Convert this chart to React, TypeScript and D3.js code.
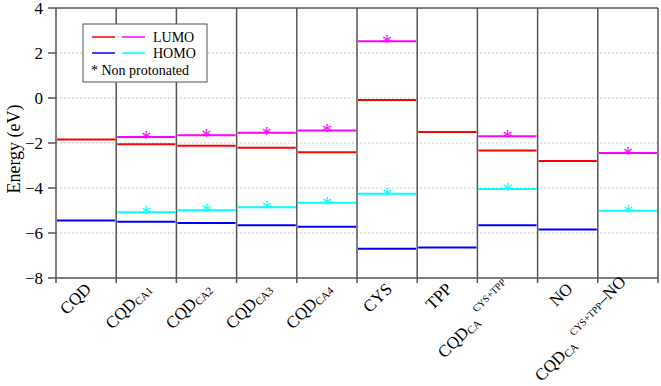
import React from "react";
import * as d3 from "d3";

const categories = ["CQD", "CQDCA1", "CQDCA2", "CQDCA3", "CQDCA4", "CYS", "TPP", "CQDCA_CYS+TPP", "NO", "CQDCA_CYS+TPP-NO"];
const lumo: (number | null)[] = [-1.84, -2.06, -2.12, -2.21, -2.41, -0.09, -1.51, -2.33, -2.8, null];
const homo: (number | null)[] = [-5.44, -5.5, -5.56, -5.66, -5.72, -6.7, -6.64, -5.66, -5.84, null];
const lumoNP: (number | null)[] = [null, -1.73, -1.66, -1.54, -1.44, 2.52, null, -1.7, null, -2.44];
const homoNP: (number | null)[] = [null, -5.08, -4.99, -4.86, -4.65, -4.25, null, -4.04, null, -5.01];
const yTicks = [4, 2, 0, -2, -4, -6, -8];
const gridTicks = [2, 0, -2, -4, -6];

const W = 661, H = 386;
const m = { left: 56, right: 658, top: 8, bottom: 278 };
const FONT = "'Liberation Serif', 'Times New Roman', serif";

function Label({ name, x, y }: { name: string; x: number; y: number }) {
  const big = 17, sub = 11, sup = 10;
  let content: React.ReactNode;
  if (name === "CQD" || name === "CYS" || name === "TPP" || name === "NO") {
    content = <tspan fontSize={big}>{name}</tspan>;
  } else if (name.startsWith("CQDCA") && !name.includes("_")) {
    content = (
      <>
        <tspan fontSize={big}>CQD</tspan>
        <tspan fontSize={sub} dy={2}>{name.slice(3)}</tspan>
      </>
    );
  } else if (name === "CQDCA_CYS+TPP") {
    content = (
      <>
        <tspan fontSize={big}>CQD</tspan>
        <tspan fontSize={sub} dy={2}>CA</tspan>
        <tspan fontSize={sup} dx={4} dy={-12}>CYS+TPP</tspan>
      </>
    );
  } else {
    content = (
      <>
        <tspan fontSize={big}>CQD</tspan>
        <tspan fontSize={sub} dy={2}>CA</tspan>
        <tspan fontSize={sup} dx={4} dy={-12}>CYS+TPP</tspan>
        <tspan fontSize={big}>–NO</tspan>
      </>
    );
  }
  return (
    <text transform={`translate(${x},${y}) rotate(-45)`} textAnchor="end" fontFamily={FONT} fill="#000">
      {content}
    </text>
  );
}

export default function App() {
  const x = d3.scaleBand<string>().domain(categories).range([m.left, m.right]).padding(0);
  const y = d3.scaleLinear().domain([-8, 4]).range([m.bottom, m.top]);
  const bw = x.bandwidth();

  const levels = (vals: (number | null)[], color: string, star: boolean) =>
    vals.map((v, i) => {
      if (v === null) return null;
      const x0 = x(categories[i])!;
      const yy = y(v);
      return (
        <g key={color + i}>
          <line x1={x0 + 1} x2={x0 + bw - 1} y1={yy} y2={yy} stroke={color} strokeWidth={2} />
          {star && (
            <text x={x0 + bw / 2} y={yy + 8} textAnchor="middle" fontSize={20} fontFamily={FONT} fill={color}>
              *
            </text>
          )}
        </g>
      );
    });

  const boundaries = d3.range(categories.length + 1).map((i) => m.left + i * bw);

  return (
    <svg width={W} height={H} style={{ position: "absolute", left: 0, top: 0 }}>
      <rect x={0} y={0} width={W} height={H} fill="#fff" />
      {gridTicks.map((t) => (
        <line key={t} x1={m.left} x2={m.right} y1={y(t)} y2={y(t)} stroke="#c8c8c8" strokeWidth={1} strokeDasharray="2,2" />
      ))}
      {boundaries.map((bx, i) => (
        <line key={i} x1={bx} x2={bx} y1={m.top} y2={m.bottom + 5} stroke="#555" strokeWidth={1.5} />
      ))}
      <line x1={m.left} x2={m.right} y1={m.top} y2={m.top} stroke="#555" strokeWidth={1.5} />
      <line x1={m.left} x2={m.right} y1={m.bottom} y2={m.bottom} stroke="#555" strokeWidth={1.5} />
      {yTicks.map((t) => (
        <g key={t}>
          <line x1={m.left - 8} x2={m.left} y1={y(t)} y2={y(t)} stroke="#555" strokeWidth={1.5} />
          <text x={m.left - 13} y={y(t) + 6} textAnchor="end" fontSize={17} fontFamily={FONT}>
            {t < 0 ? "−" + Math.abs(t) : String(t)}
          </text>
        </g>
      ))}
      <text transform={`translate(20,${(m.top + m.bottom) / 2 + 6}) rotate(-90)`} textAnchor="middle" fontSize={18} fontFamily={FONT}>
        Energy (eV)
      </text>
      {levels(lumo, "#ff0000", false)}
      {levels(homo, "#0000ff", false)}
      {levels(lumoNP, "#ff00ff", true)}
      {levels(homoNP, "#00ffff", true)}
      {categories.map((c) => (
        <Label key={c} name={c} x={x(c)! + bw / 2 + 6} y={m.bottom + 12} />
      ))}
      <g>
        <rect x={83} y={24} width={124} height={58} fill="#fff" stroke="#555" strokeWidth={1} />
        <line x1={92} x2={115} y1={37} y2={37} stroke="#ff0000" strokeWidth={1.5} />
        <line x1={122} x2={145} y1={37} y2={37} stroke="#ff00ff" strokeWidth={1.5} />
        <line x1={92} x2={115} y1={53} y2={53} stroke="#0000ff" strokeWidth={1.5} />
        <line x1={122} x2={145} y1={53} y2={53} stroke="#00ffff" strokeWidth={1.5} />
        <text x={153} y={42} fontSize={14} fontFamily={FONT}>LUMO</text>
        <text x={153} y={58} fontSize={14} fontFamily={FONT}>HOMO</text>
        <text x={91} y={75} fontSize={14} fontFamily={FONT}>* Non protonated</text>
      </g>
    </svg>
  );
}
